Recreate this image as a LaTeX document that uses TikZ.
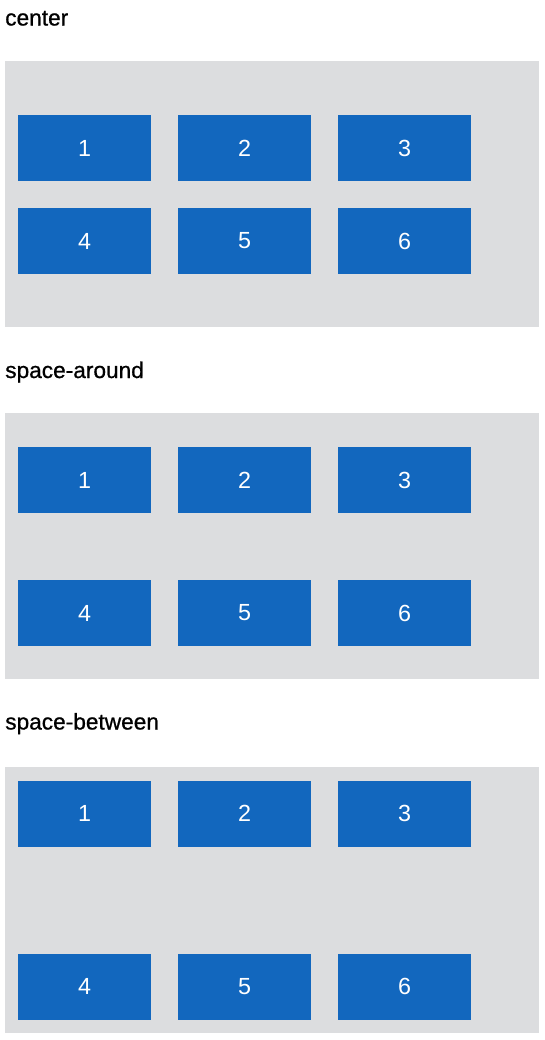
\documentclass[tikz,border=0pt]{standalone}
\usepackage{fontspec}
\setmainfont{Liberation Sans}
\newfontface\capfont{Liberation Sans}[FakeBold=0.8]
\usepackage{tikz}

\tikzset{
  panel/.style={fill={rgb,255:red,220;green,221;blue,223}},
  cell/.style={fill={rgb,255:red,18;green,103;blue,190}, text=white, inner sep=0pt,
    minimum width=99.75pt, minimum height=49.5pt, font=\fontsize{17.5}{20}\selectfont},
  caption/.style={anchor=base west, inner sep=0pt, font=\capfont\fontsize{17}{20}\selectfont}
}

\begin{document}
\begin{tikzpicture}[x=0.75pt,y=0.75pt,yscale=-1,xscale=1]
\useasboundingbox (0,0) rectangle (544,1040);

% Text Node
\node [caption] (tcenter) at (5,25.5) {center};
% Background Panel
\fill [panel] (5,61) rectangle (539,327);
% Cells
\node [cell] (a1) at (84.5,148) {1};
\node [cell] (a2) at (244.5,148) {2};
\node [cell] (a3) at (404.5,148) {3};
\node [cell] (a4) at (84.5,241) {4};
\node [cell] (a5) at (244.5,241) {5};
\node [cell] (a6) at (404.5,241) {6};

% Text Node
\node [caption] (taround) at (5,378) {space-around};
% Background Panel
\fill [panel] (5,413) rectangle (539,679);
% Cells
\node [cell] (b1) at (84.5,480) {1};
\node [cell] (b2) at (244.5,480) {2};
\node [cell] (b3) at (404.5,480) {3};
\node [cell] (b4) at (84.5,613) {4};
\node [cell] (b5) at (244.5,613) {5};
\node [cell] (b6) at (404.5,613) {6};

% Text Node
\node [caption] (tbetween) at (5,729.5) {space-between};
% Background Panel
\fill [panel] (5,766.5) rectangle (539,1033);
% Cells
\node [cell] (c1) at (84.5,813.5) {1};
\node [cell] (c2) at (244.5,813.5) {2};
\node [cell] (c3) at (404.5,813.5) {3};
\node [cell] (c4) at (84.5,986.5) {4};
\node [cell] (c5) at (244.5,986.5) {5};
\node [cell] (c6) at (404.5,986.5) {6};

\end{tikzpicture}
\end{document}
